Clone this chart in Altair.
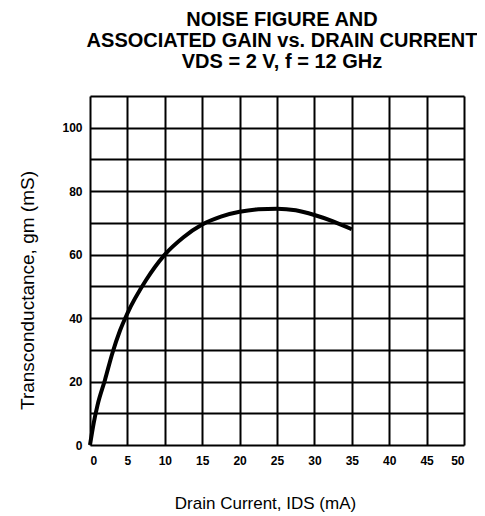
import altair as alt
import pandas as pd

# Drain current (mA) and transconductance (mS)
ids_ma = [0, 0.5, 1, 2, 3, 4, 5, 7.5, 10, 12.5, 15, 17.5, 20, 22.5, 25, 27.5, 30, 32.5, 35]
gm_ms = [0, 7, 12.5, 20.5, 29, 36, 41.5, 52, 60, 65.5, 69.5, 72, 73.5, 74.3, 74.5, 74, 72.5, 70.5, 68]

x_ticks = list(range(0, 55, 5))
y_ticks = list(range(0, 120, 10))

title_lines = ["NOISE FIGURE AND", "ASSOCIATED GAIN vs. DRAIN CURRENT", "VDS = 2 V, f = 12 GHz"]
x_title = "Drain Current, IDS (mA)"
y_title = "Transconductance, gm (mS)"

df = pd.DataFrame({"ids": ids_ma, "gm": gm_ms})

FONT = "Liberation Sans"

chart = (
    alt.Chart(df)
    .mark_line(color="black", strokeWidth=4, interpolate="monotone")
    .encode(
        x=alt.X(
            "ids:Q",
            scale=alt.Scale(domain=[0, 50], nice=False, zero=True),
            axis=alt.Axis(
                values=x_ticks,
                title=x_title,
                grid=True,
                gridColor="black",
                gridWidth=2,
                gridOpacity=1,
                domain=False,
                ticks=False,
                labelFont=FONT,
                labelFontWeight="bold",
                labelFontSize=12,
                labelColor="black",
                labelPadding=10,
                titleFont=FONT,
                titleFontWeight="normal",
                titleFontSize=17,
                titleColor="black",
                titleX=175,
                titleY=63,
                titleAlign="center",
                titleBaseline="alphabetic",
            ),
        ),
        y=alt.Y(
            "gm:Q",
            scale=alt.Scale(domain=[0, 110], nice=False, zero=True),
            axis=alt.Axis(
                values=y_ticks,
                labelExpr="(datum.value % 20 == 0 && datum.value <= 100) ? datum.label : ''",
                title=y_title,
                grid=True,
                gridColor="black",
                gridWidth=2,
                gridOpacity=1,
                domain=False,
                ticks=False,
                labelFont=FONT,
                labelFontWeight="bold",
                labelFontSize=12,
                labelColor="black",
                labelPadding=8,
                titleFont=FONT,
                titleFontWeight="normal",
                titleFontSize=19,
                titleColor="black",
                titleAngle=270,
                titleX=-63,
                titleY=194,
                titleAlign="center",
                titleBaseline="middle",
            ),
        ),
    )
    .properties(
        width=374,
        height=349,
        title=alt.TitleParams(
            text=title_lines,
            font=FONT,
            fontSize=20,
            fontWeight="bold",
            color="black",
            anchor="middle",
            lineHeight=21,
            offset=24,
            dx=5,
        ),
        autosize=alt.AutoSizeParams(type="none"),
        padding={"left": 82, "top": 88, "right": 13, "bottom": 71},
    )
    .configure_view(stroke="black", strokeWidth=2.5)
    .configure(background="white")
)

chart.save("out.html", embed_options={"renderer": "svg", "actions": False})
